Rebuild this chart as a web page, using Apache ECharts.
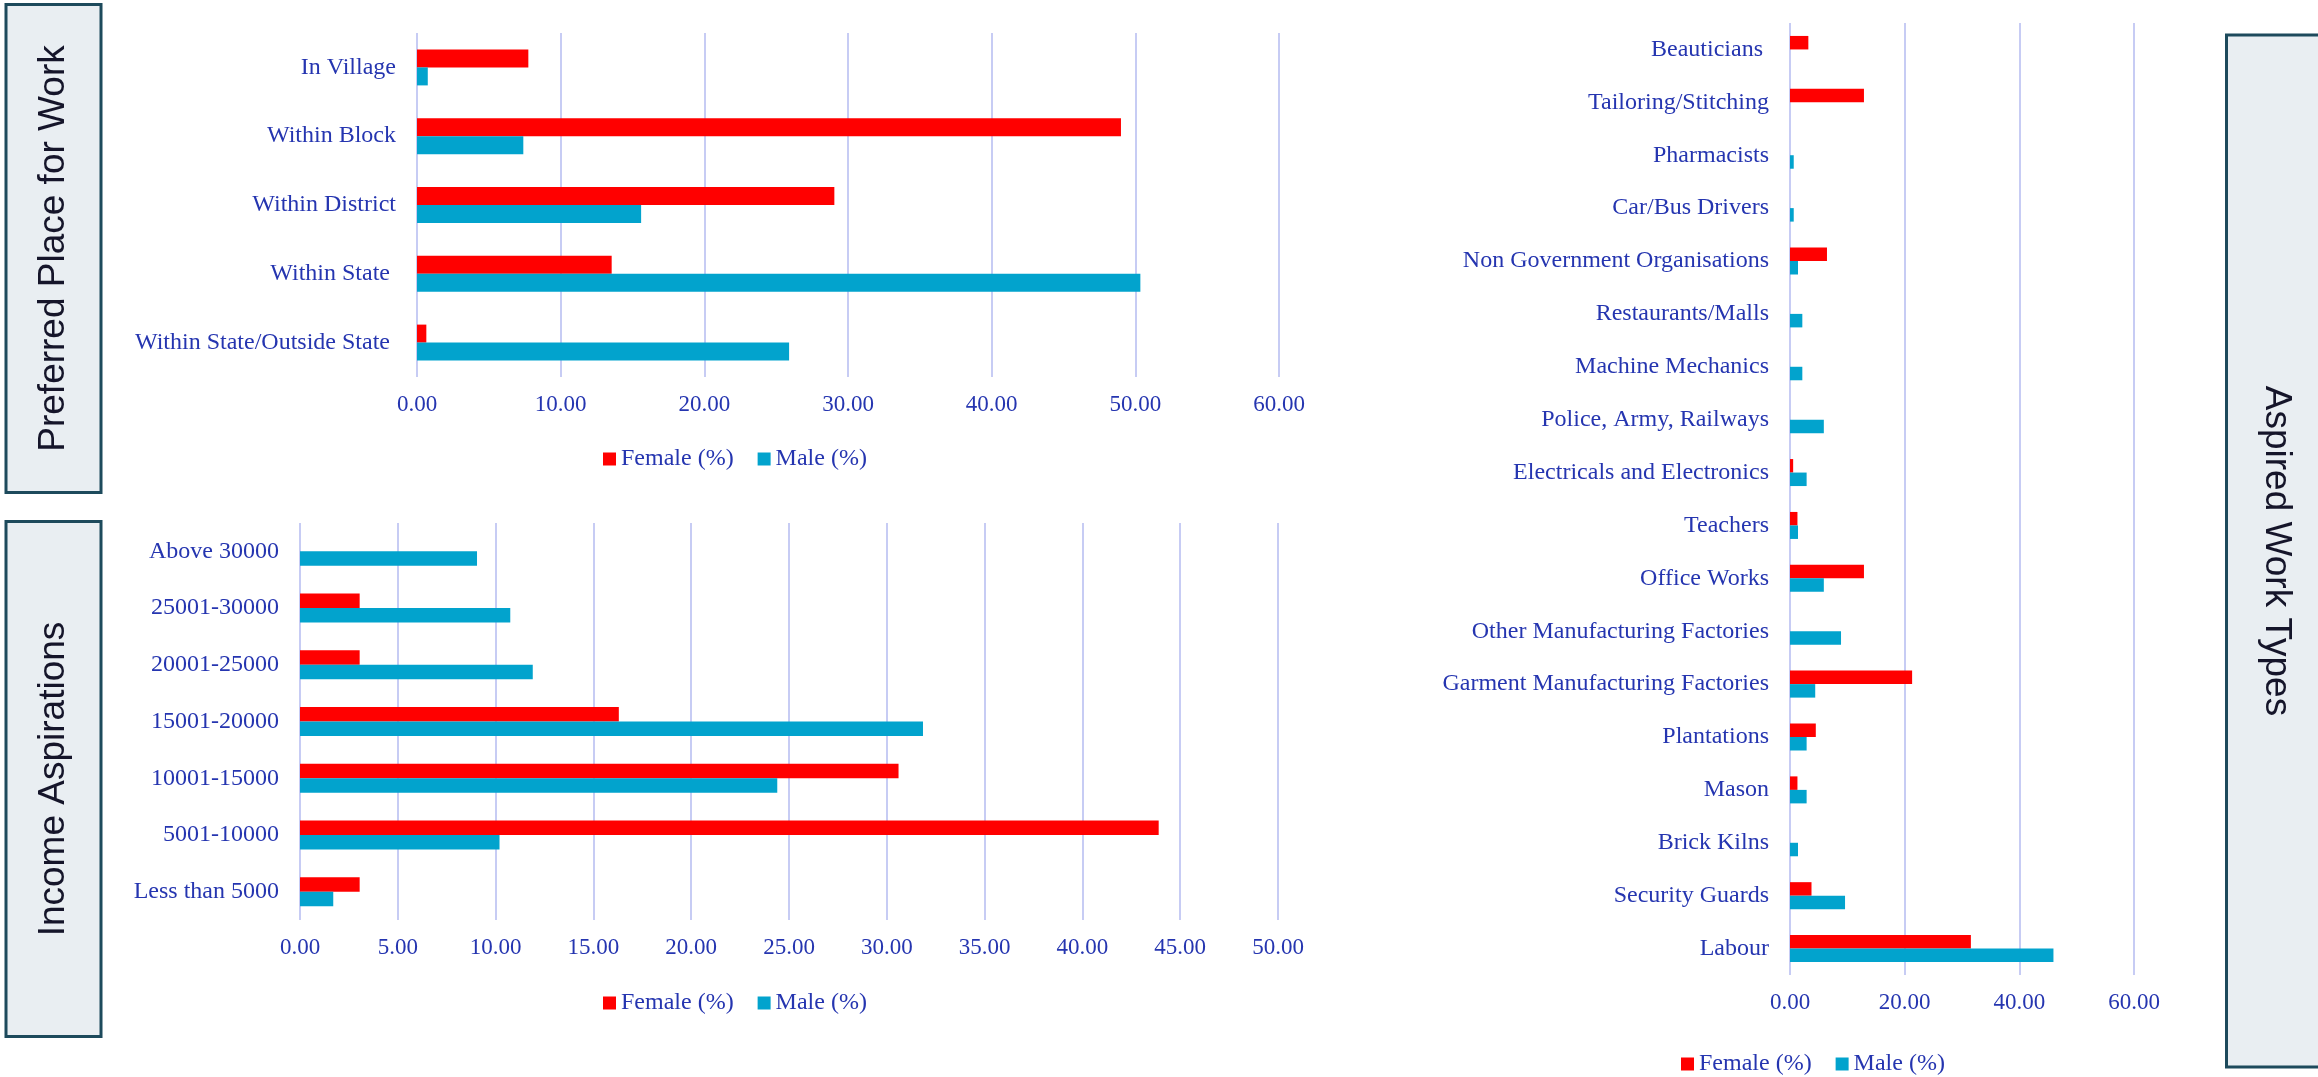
<!DOCTYPE html>
<html>
<head>
<meta charset="utf-8">
<script src="https://cdn.jsdelivr.net/npm/echarts@6/dist/echarts.min.js"></script>
<style>
  html, body { margin: 0; padding: 0; background: #fff; }
  #main { width: 2318px; height: 1077px; }
</style>
</head>
<body>
<div id="main"></div>
<script>
// preferred place for work
const placeCats = ['In Village', 'Within Block', 'Within District', 'Within State ', 'Within State/Outside State ']
const placeFemale = [7.75, 49.0, 29.05, 13.55, 0.65]
const placeMale = [0.75, 7.4, 15.6, 50.35, 25.9]
const placeTicks = [0, 60, 10]

// income aspirations
const incomeCats = ['Above 30000', '25001-30000', '20001-25000', '15001-20000', '10001-15000', '5001-10000', 'Less than 5000']
const incomeFemale = [0, 3.05, 3.05, 16.3, 30.6, 43.9, 3.05]
const incomeMale = [9.05, 10.75, 11.9, 31.85, 24.4, 10.2, 1.7]
const incomeTicks = [0, 50, 5]

// aspired work types
const workCats = ['Beauticians ', 'Tailoring/Stitching', 'Pharmacists', 'Car/Bus Drivers',
  'Non Government Organisations', 'Restaurants/Malls', 'Machine Mechanics', 'Police, Army, Railways',
  'Electricals and Electronics', 'Teachers', 'Office Works', 'Other Manufacturing Factories',
  'Garment Manufacturing Factories', 'Plantations', 'Mason', 'Brick Kilns', 'Security Guards', 'Labour']
const workFemale = [3.2, 12.9, 0, 0, 6.45, 0, 0, 0, 0.55, 1.3, 12.9, 0, 21.3, 4.5, 1.3, 0, 3.75, 31.55]
const workMale = [0, 0, 0.65, 0.65, 1.4, 2.15, 2.15, 5.9, 2.9, 1.4, 5.9, 8.9, 4.4, 2.9, 2.9, 1.4, 9.6, 45.95]
const workTicks = [0, 60, 20]

const seriesNames = ['Female (%)', 'Male (%)']
const colors = ['#ff0000', '#02a3cd']

const textBlue = '#2535b0'
const serif = 'Liberation Serif, Times New Roman, serif'
const sans = 'Liberation Sans, Arial, sans-serif'

const chart = echarts.init(document.getElementById('main'))

function valueAxis(idx, ticks) {
  return {
    type: 'value',
    gridIndex: idx,
    min: ticks[0],
    max: ticks[1],
    interval: ticks[2],
    axisLine: { show: false },
    axisTick: { show: false },
    splitLine: { lineStyle: { color: '#c7ccf4', width: 2 } },
    axisLabel: {
      margin: 16,
      color: textBlue,
      fontFamily: serif,
      fontSize: 23,
      formatter: v => v.toFixed(2)
    }
  }
}

function catAxis(idx, cats) {
  return {
    type: 'category',
    gridIndex: idx,
    inverse: true,
    data: cats,
    axisLine: { show: false },
    axisTick: { show: false },
    axisLabel: {
      margin: 21,
      color: textBlue,
      fontFamily: serif,
      fontSize: 24
    }
  }
}

function barPair(idx, female, male, width) {
  return [female, male].map((d, i) => ({
    name: seriesNames[i],
    type: 'bar',
    xAxisIndex: idx,
    yAxisIndex: idx,
    data: d,
    barWidth: width,
    barGap: 0,
    itemStyle: { color: colors[i] }
  }))
}

function legendAt(left, top) {
  return {
    left: left,
    top: top,
    data: seriesNames,
    icon: 'rect',
    itemWidth: 13,
    itemHeight: 13,
    itemGap: 24,
    textStyle: { color: textBlue, fontFamily: serif, fontSize: 24 }
  }
}

function sideBox(x, y, w, h, label, rot) {
  return {
    type: 'group',
    children: [
      {
        type: 'rect',
        shape: { x: x, y: y, width: w, height: h },
        style: { fill: '#e9eef2', stroke: '#1d4a5c', lineWidth: 3 }
      },
      {
        type: 'text',
        x: x + w / 2,
        y: y + h / 2,
        rotation: rot,
        style: {
          text: label,
          fill: '#15152a',
          font: '37px ' + sans,
          align: 'center',
          verticalAlign: 'middle'
        }
      }
    ]
  }
}

chart.setOption({
  animation: false,
  color: colors,
  textStyle: { fontFamily: serif },
  grid: [
    { left: 417, top: 33, width: 862, height: 344 },
    { left: 300, top: 523, width: 978, height: 397 },
    { left: 1790, top: 23, width: 344, height: 952 }
  ],
  xAxis: [valueAxis(0, placeTicks), valueAxis(1, incomeTicks), valueAxis(2, workTicks)],
  yAxis: [catAxis(0, placeCats), catAxis(1, incomeCats), catAxis(2, workCats)],
  legend: [legendAt(598, 442), legendAt(598, 986), legendAt(1676, 1047)],
  series: [
    ...barPair(0, placeFemale, placeMale, 18),
    ...barPair(1, incomeFemale, incomeMale, 14.5),
    ...barPair(2, workFemale, workMale, 13.5)
  ],
  graphic: [
    sideBox(6, 4.5, 95, 488, 'Preferred Place for Work', Math.PI / 2),
    sideBox(6, 521.5, 95, 515, 'Income Aspirations', Math.PI / 2),
    sideBox(2226.5, 35, 100, 1032, 'Aspired Work Types', -Math.PI / 2)
  ]
})
</script>
</body>
</html>
